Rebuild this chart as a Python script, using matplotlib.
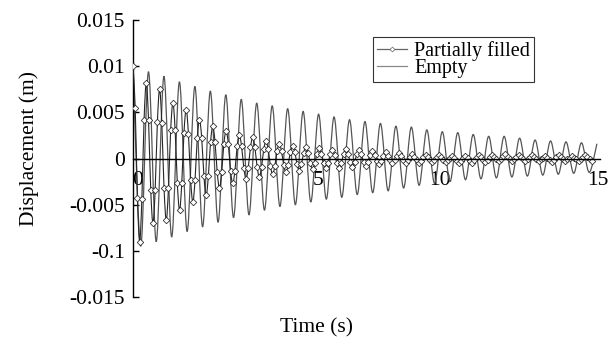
import numpy as np
import matplotlib
matplotlib.use("Agg")
import matplotlib.pyplot as plt
from matplotlib.path import Path
from matplotlib.patches import PathPatch
from matplotlib.lines import Line2D

plt.rcParams['font.family'] = ['Liberation Serif', 'DejaVu Serif']

# ---------------- data ----------------
# Empty tank: alternating peaks / troughs every 0.25 s
empty_dt = 0.25
empty_values = [
    0.0098, -0.0095, 0.0094, -0.0090, 0.0089, -0.0085, 0.0083, -0.0079,
    0.0078, -0.0074, 0.0073, -0.0069, 0.0069, -0.0064, 0.0064, -0.0061,
    0.0060, -0.0056, 0.0057, -0.0052, 0.0054, -0.0050, 0.0051, -0.0047,
    0.0048, -0.0044, 0.0045, -0.0042, 0.0042, -0.0039, 0.0040, -0.0037,
    0.0038, -0.0035, 0.0035, -0.0032, 0.0034, -0.0029, 0.0031, -0.0027,
    0.0029, -0.0025, 0.0028, -0.0023, 0.0026, -0.0022, 0.0024, -0.0021,
    0.0024, -0.0020, 0.0022, -0.0019, 0.0020, -0.0018, 0.0019, -0.0017,
    0.0018, -0.0016, 0.0017, -0.0015, 0.0016,
]

# Partially filled tank: sampled every 0.0717 s
partial_dt = 0.43 / 6
partial_values = [
    0.0100, 0.0055, -0.0043, -0.0090, -0.0044, 0.0042, 0.0082, 0.0042, -0.0034,
    -0.0070, -0.0034, 0.0039, 0.0075, 0.0038, -0.0032, -0.0067, -0.0032, 0.0031,
    0.0060, 0.0031, -0.0027, -0.0056, -0.0027, 0.0028, 0.0053, 0.0027, -0.0023,
    -0.0047, -0.0023, 0.0022, 0.0042, 0.0022, -0.0019, -0.0040, -0.0019, 0.0018,
    0.0035, 0.0018, -0.0015, -0.0032, -0.0015, 0.0016, 0.0030, 0.0016, -0.0013,
    -0.0027, -0.0013, 0.0013, 0.0025, 0.0013, -0.0010, -0.0022, -0.0010, 0.0012,
    0.0023, 0.0012, -0.0009, -0.0020, -0.0009, 0.0010, 0.0019, 0.0010, -0.0008,
    -0.0017, -0.0008, 0.0008, 0.0016, 0.0008, -0.0007, -0.0015, -0.0007, 0.0007,
    0.0014, 0.0007, -0.0006, -0.0013, -0.0006, 0.0006, 0.0012, 0.0006, -0.0005,
    -0.0011, -0.0005, 0.0005, 0.0011, 0.0005, -0.0005, -0.0010, -0.0005, 0.0005,
    0.0009, 0.0004, -0.0005, -0.0010, -0.0005, 0.0005, 0.0010, 0.0005, -0.0004,
    -0.0009, -0.0004, 0.0005, 0.0009, 0.0005, -0.0004, -0.0008, -0.0004, 0.0004,
    0.0008, 0.0004, -0.0003, -0.0006, -0.0003, 0.0003, 0.0007, 0.0003, -0.0002,
    -0.0005, -0.0002, 0.0003, 0.0006, 0.0003, -0.0002, -0.0005, -0.0002, 0.0002,
    0.0005, 0.0002, -0.0002, -0.0005, -0.0003, 0.0002, 0.0004, 0.0002, -0.0002,
    -0.0004, -0.0002, 0.0002, 0.0004, 0.0002, -0.0002, -0.0004, -0.0002, 0.0001,
    0.0003, 0.0001, -0.0003, -0.0005, -0.0003, 0.0001, 0.0003, 0.0001, -0.0003,
    -0.0005, -0.0002, 0.0002, 0.0004, 0.0002, -0.0002, -0.0004, -0.0002, 0.0002,
    0.0004, 0.0002, -0.0001, -0.0003, -0.0001, 0.0003, 0.0005, 0.0002, -0.0001,
    -0.0003, -0.0001, 0.0002, 0.0004, 0.0002, -0.0001, -0.0003, -0.0001, 0.0002,
    0.0004, 0.0002, -0.0001, -0.0003, -0.0001, 0.0001, 0.0003, 0.0001, -0.0002,
    -0.0004, -0.0002, 0.0002, 0.0004, 0.0002, -0.0001, -0.0003, -0.0001, 0.0001,
    0.0003, 0.0001, -0.0001, -0.0003, -0.0001, 0.0002, 0.0004, 0.0002, -0.0001,
    -0.0003,
]

ytick_values = [-0.015, -0.01, -0.005, 0, 0.005, 0.01, 0.015]
ytick_labels = ["-0.015", "-0.1", "-0.005", "0", "0.005", "0.01", "0.015"]
xtick_positions = [0.16, 5.98, 9.93, 15.03]
xtick_labels = ["0", "5", "10", "15"]

series_labels = ["Partially filled", "Empty"]

# ---------------- build series ----------------
empty_t = np.arange(len(empty_values)) * empty_dt
partial_t = np.arange(len(partial_values)) * partial_dt


def smooth_path(x, y):
    """Smoothed (Catmull-Rom style) line through the data points."""
    pts = np.column_stack([x, y])
    verts = [pts[0]]
    codes = [Path.MOVETO]
    n = len(pts)
    for i in range(n - 1):
        p0 = pts[i - 1] if i > 0 else pts[i]
        p1 = pts[i]
        p2 = pts[i + 1]
        p3 = pts[i + 2] if i + 2 < n else pts[i + 1]
        verts += [p1 + (p2 - p0) / 6, p2 - (p3 - p1) / 6, p2]
        codes += [Path.CURVE4] * 3
    return Path(verts, codes)


# ---------------- figure ----------------
fig = plt.figure(figsize=(6.15, 3.43), dpi=100)
ax = fig.add_axes([133 / 615, 46 / 343, 467 / 615, 277 / 343])

empty_color = '#555555'
partial_color = '#262626'

ax.add_patch(PathPatch(smooth_path(empty_t, empty_values), fill=False,
                       edgecolor=empty_color, lw=0.9, zorder=2))
ax.add_patch(PathPatch(smooth_path(partial_t, partial_values), fill=False,
                       edgecolor=partial_color, lw=0.8, zorder=3))
ax.plot(partial_t, partial_values, ls='none', marker='D', ms=3.3,
        mfc='white', mec='#333333', mew=0.6, zorder=4)

ax.set_xlim(0, 15.1)
ax.set_ylim(-0.015, 0.015)

for s in ['top', 'right']:
    ax.spines[s].set_visible(False)
ax.spines['bottom'].set_position(('data', 0))
ax.spines['left'].set_linewidth(1.0)
ax.spines['bottom'].set_linewidth(1.0)
ax.spines['bottom'].set_zorder(5)

ax.set_yticks(ytick_values)
ax.set_yticklabels(ytick_labels)
ax.set_xticks(xtick_positions)
ax.set_xticklabels(xtick_labels)
ax.tick_params(axis='y', direction='in', length=4, width=1, pad=6, labelsize=15.5)
ax.tick_params(axis='x', length=0, pad=9, labelsize=15.5)

fig.text(316 / 615, 1 - 328 / 343, "Time (s)", ha='center', va='center', fontsize=15.5)
fig.text(29 / 615, 1 - 149 / 343, "Displacement (m)", ha='center', va='center',
         rotation=90, fontsize=15.5)

handles = [
    Line2D([], [], color='#666666', lw=0.9, marker='D', ms=2.5, mfc='white',
           mec='#666666', mew=0.5),
    Line2D([], [], color='#888888', lw=0.9),
]
leg = ax.legend(handles, series_labels,
                loc='upper left', bbox_to_anchor=((373 - 133) / 467, (297 - 37) / 277),
                frameon=True, fancybox=False, edgecolor='black', fontsize=14.5,
                handlelength=1.5, handletextpad=0.35, labelspacing=-0.1,
                borderpad=0.2, borderaxespad=0)
leg.get_frame().set_linewidth(0.8)

fig.savefig("out.png", dpi=100)
